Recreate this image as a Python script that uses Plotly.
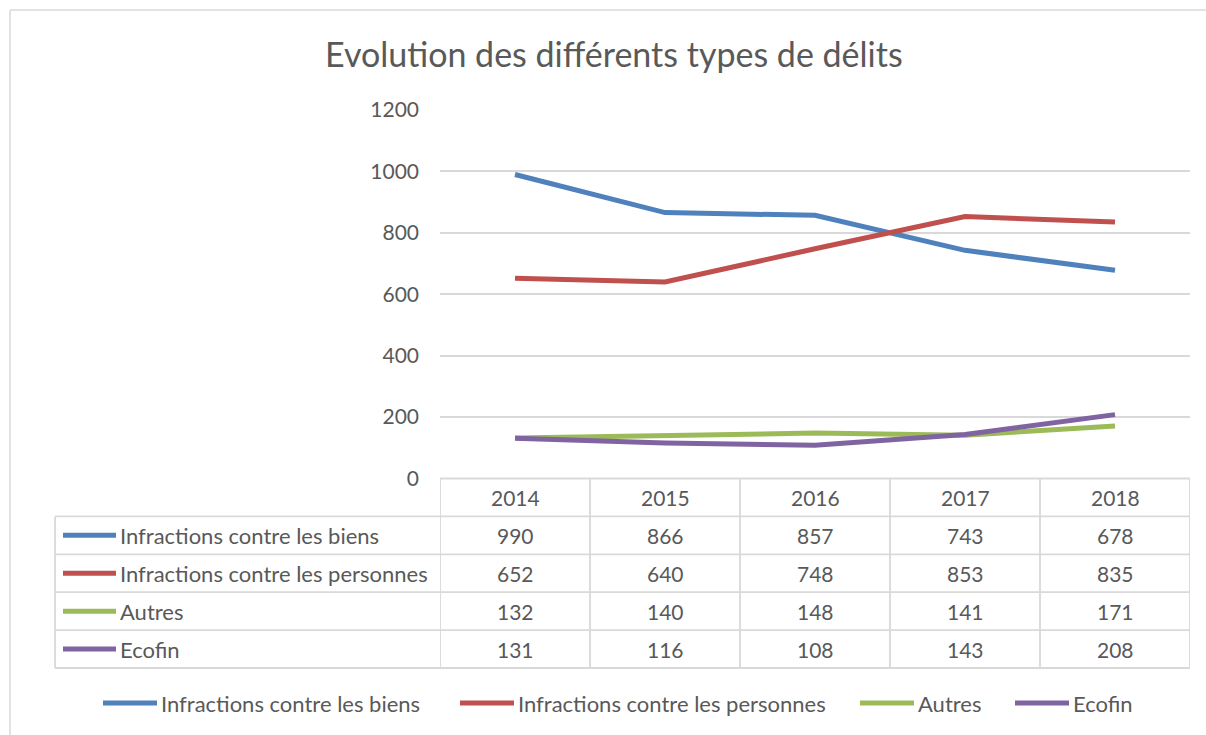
import plotly.graph_objects as go

years = ["2014", "2015", "2016", "2017", "2018"]
series_names = [
    "Infractions contre les biens",
    "Infractions contre les personnes",
    "Autres",
    "Ecofin",
]
biens = [990, 866, 857, 743, 678]
personnes = [652, 640, 748, 853, 835]
autres = [132, 140, 148, 141, 171]
ecofin = [131, 116, 108, 143, 208]
series_values = [biens, personnes, autres, ecofin]
colors = ["#4f81bd", "#c0504d", "#9bbb59", "#8064a2"]

W, H = 1206, 735
FONT = "Lato"
TXT = "#595959"
GRID = "#d9d9d9"


def px(x):
    return x / W


def py(y):
    return 1 - y / H


# pixel geometry of the excel-like layout
plot_left, plot_right = 440, 1190
plot_top, plot_bottom = 110, 478.5
row_h = 37.9
table_left = 55
table_bottom = plot_bottom + 5 * row_h

fig = go.Figure()
for name, vals, col in zip(series_names, series_values, colors):
    fig.add_trace(
        go.Scatter(
            x=years,
            y=vals,
            name=name,
            mode="lines",
            line=dict(color=col, width=5),
            hoverinfo="skip",
        )
    )

shapes = []
annotations = []

# outer chart border (top and left visible)
shapes.append(dict(type="line", xref="paper", yref="paper", x0=px(10), x1=px(1210), y0=py(10), y1=py(10),
                   line=dict(color=GRID, width=1.5)))
shapes.append(dict(type="line", xref="paper", yref="paper", x0=px(10), x1=px(10), y0=py(10), y1=py(740),
                   line=dict(color=GRID, width=1.5)))

# data table: horizontal rules
for i in range(6):
    y = plot_bottom + i * row_h
    x0 = plot_left if i == 0 else table_left
    shapes.append(dict(type="line", xref="paper", yref="paper", x0=px(x0), x1=px(plot_right), y0=py(y), y1=py(y),
                       line=dict(color=GRID, width=1.8)))
# vertical rules at category boundaries
for k in range(len(years) + 1):
    shapes.append(dict(type="line", xref="x", yref="paper", x0=k - 0.5, x1=k - 0.5,
                       y0=py(plot_bottom), y1=py(table_bottom), line=dict(color=GRID, width=1.8)))
shapes.append(dict(type="line", xref="paper", yref="paper", x0=px(table_left), x1=px(table_left),
                   y0=py(plot_bottom + row_h), y1=py(table_bottom), line=dict(color=GRID, width=1.8)))

num_font = dict(family=FONT, size=21, color=TXT)
lab_font = dict(family=FONT, size=22, color=TXT)

# header row: years
for k, yr in enumerate(years):
    annotations.append(dict(x=k, y=py(plot_bottom + row_h / 2), xref="x", yref="paper", text=yr,
                            xanchor="center", yanchor="middle", showarrow=False, font=num_font))

# rows: legend key + name + values
for i, (name, vals, col) in enumerate(zip(series_names, series_values, colors)):
    yc = plot_bottom + (i + 1.5) * row_h
    shapes.append(dict(type="line", xref="paper", yref="paper", x0=px(63), x1=px(116), y0=py(yc), y1=py(yc),
                       line=dict(color=col, width=5)))
    annotations.append(dict(x=px(118), y=py(yc), xref="paper", yref="paper", text=name, xanchor="left",
                            yanchor="middle", showarrow=False, font=lab_font))
    for k, v in enumerate(vals):
        annotations.append(dict(x=k, y=py(yc), xref="x", yref="paper", text=str(v),
                                xanchor="center", yanchor="middle", showarrow=False, font=num_font))

# bottom legend
legend_x = [103, 460, 860, 1015]
for lx, name, col in zip(legend_x, series_names, colors):
    shapes.append(dict(type="line", xref="paper", yref="paper", x0=px(lx), x1=px(lx + 54), y0=py(703), y1=py(703),
                       line=dict(color=col, width=5)))
    annotations.append(dict(x=px(lx + 56), y=py(703), xref="paper", yref="paper", text=name, xanchor="left",
                            yanchor="middle", showarrow=False, font=lab_font))

fig.update_layout(
    width=W,
    height=H,
    margin=dict(l=0, r=0, t=0, b=0, pad=0),
    paper_bgcolor="white",
    plot_bgcolor="white",
    showlegend=False,
    title=dict(
        text="Evolution des différents types de délits",
        x=0.509,
        xanchor="center",
        y=py(55),
        yanchor="middle",
        automargin=False,
        font=dict(family=FONT, size=34, color=TXT),
    ),
    shapes=shapes,
    annotations=annotations,
)
fig.update_xaxes(
    domain=[px(plot_left), px(plot_right)],
    range=[-0.5, 4.5],
    showticklabels=False,
    showgrid=False,
    zeroline=False,
    showline=False,
    ticks="",
    automargin=False,
)
fig.update_yaxes(
    domain=[py(plot_bottom), py(plot_top)],
    range=[0, 1200],
    dtick=200,
    gridcolor=GRID,
    gridwidth=1.8,
    zeroline=False,
    showline=False,
    ticks="",
    ticklabelstandoff=20,
    tickfont=num_font,
    automargin=False,
)

fig.write_html(
    "out.html",
    post_script="document.body.style.margin='0';",
    config={"displayModeBar": False},
)
